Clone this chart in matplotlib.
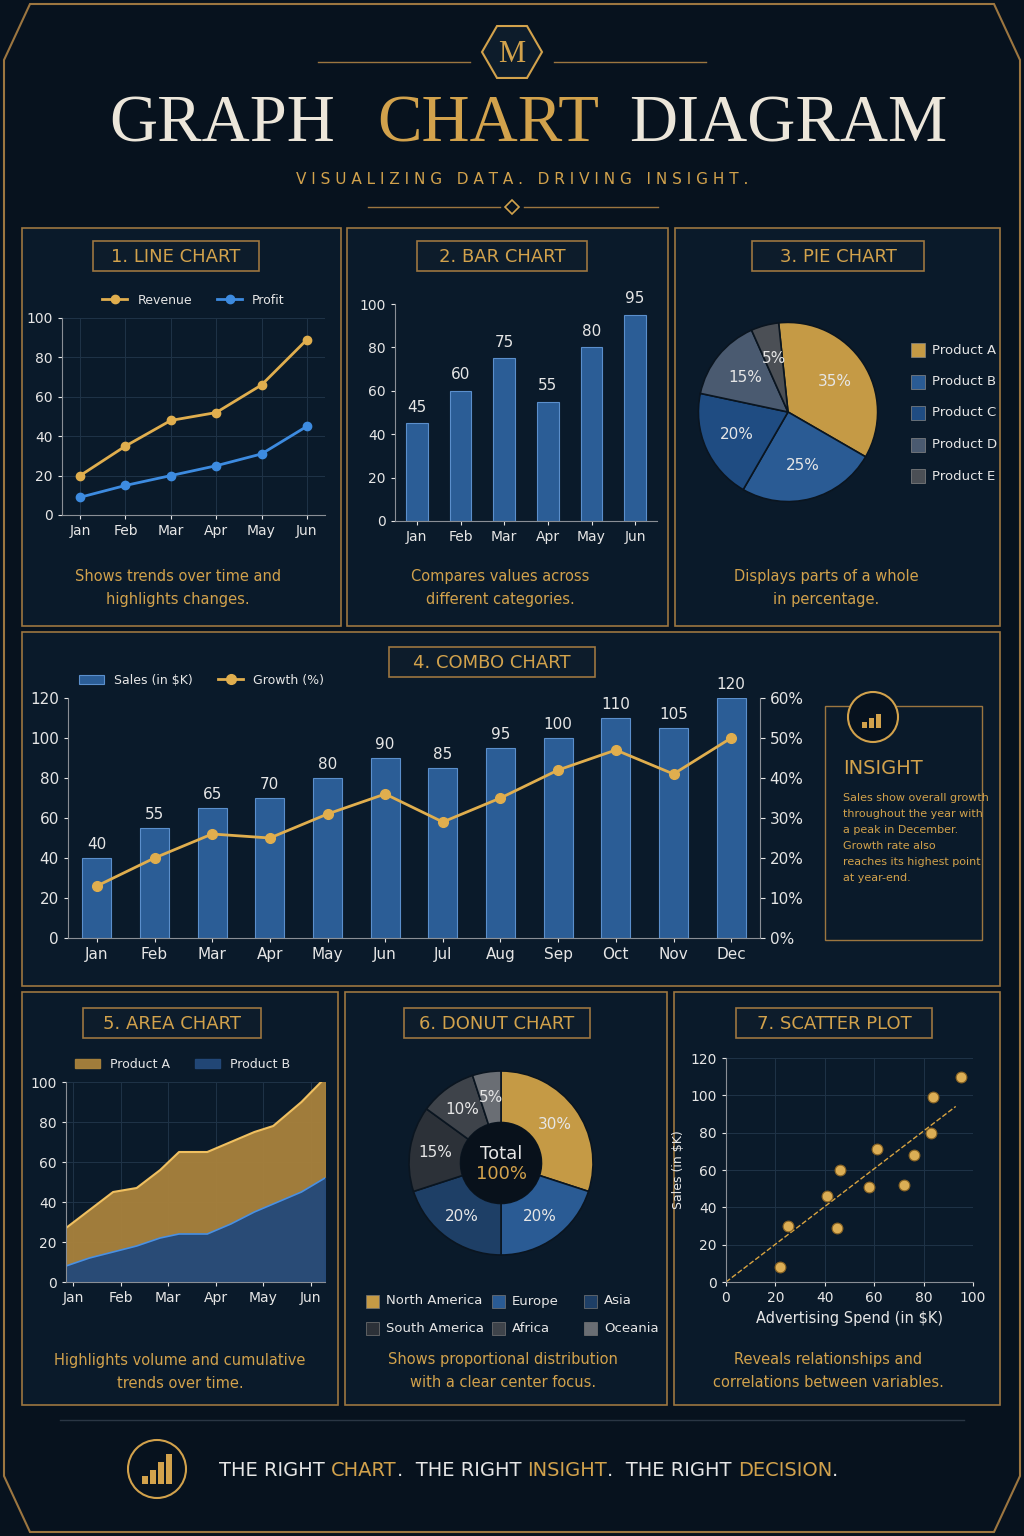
import matplotlib
matplotlib.use("Agg")
import matplotlib.pyplot as plt
from matplotlib.patches import Rectangle, RegularPolygon, Circle, Polygon
import numpy as np

W, H = 1024, 1536
BG = "#07121e"
PANEL = "#0a1a2a"
GOLD = "#d2a24c"
BORDER = "#9c7640"
TXT = "#e6e6e6"
BLUE = "#2b5d96"

months6 = ["Jan", "Feb", "Mar", "Apr", "May", "Jun"]
revenue = [20, 35, 48, 52, 66, 89]
profit = [9, 15, 20, 25, 31, 45]
bar_vals = [45, 60, 75, 55, 80, 95]
pie_labels = ["Product A", "Product B", "Product C", "Product D", "Product E"]
pie_vals = [35, 25, 20, 15, 5]
pie_colors = ["#c59a45", "#2a5b94", "#1f4c82", "#4a5a70", "#4b4f55"]
months12 = ["Jan", "Feb", "Mar", "Apr", "May", "Jun", "Jul", "Aug", "Sep", "Oct", "Nov", "Dec"]
sales = [40, 55, 65, 70, 80, 90, 85, 95, 100, 110, 105, 120]
growth = [13, 20, 26, 25, 31, 36, 29, 35, 42, 47, 41, 50]
area_x = [0, 0.5, 1, 1.5, 2, 2.4, 3, 3.5, 4, 4.4, 5, 5.5]
area_a = [27, 36, 45, 47, 56, 65, 65, 70, 75, 78, 90, 102]
area_b = [8, 12, 15, 18, 22, 24, 24, 29, 35, 39, 45, 52]
donut_labels = ["North America", "Europe", "Asia", "South America", "Africa", "Oceania"]
donut_vals = [30, 20, 20, 15, 10, 5]
donut_colors = ["#c59a45", "#2a5b94", "#1e3f66", "#2c3138", "#3e434a", "#6a6e74"]
scatter_x = [22, 25, 41, 45, 46, 58, 61, 72, 76, 83, 84, 95]
scatter_y = [8, 30, 46, 29, 60, 51, 71, 52, 68, 80, 99, 110]

plt.rcParams["font.family"] = ["DejaVu Sans"]
fig = plt.figure(figsize=(W / 100, H / 100), dpi=100, facecolor=BG)
bg = fig.add_axes([0, 0, 1, 1], zorder=0)
bg.set_xlim(0, W); bg.set_ylim(H, 0); bg.axis("off"); bg.set_facecolor(BG)

def ax_px(x0, y0, x1, y1):
    a = fig.add_axes([x0 / W, 1 - y1 / H, (x1 - x0) / W, (y1 - y0) / H], zorder=2)
    a.set_facecolor("none")
    return a

def style(a, grid=True):
    for s in ["top", "right"]:
        a.spines[s].set_visible(False)
    for s in ["left", "bottom"]:
        a.spines[s].set_color("#8a8f96")
    a.tick_params(colors=TXT, labelsize=10, length=3)
    if grid:
        a.grid(color="#1f3347", lw=0.7)
        a.set_axisbelow(True)

def panel(x0, y0, x1, y1):
    bg.add_patch(Rectangle((x0, y0), x1 - x0, y1 - y0, fc=PANEL, ec=BORDER, lw=1.2))

def title_box(cx, cy, w, text):
    bg.add_patch(Rectangle((cx - w / 2, cy - 15), w, 30, fc="#0d1c2b", ec=BORDER, lw=1.2))
    bg.text(cx, cy + 1, text, color=GOLD, fontsize=13, ha="center", va="center")

def caption(cx, cy, text):
    bg.text(cx, cy, text, color=GOLD, fontsize=10.5, ha="center", va="center", linespacing=1.6)

# outer frame
bg.add_patch(Polygon([(30, 4), (994, 4), (1020, 60), (1020, 1476), (994, 1532), (30, 1532), (4, 1476), (4, 60)],
                     closed=True, fc="none", ec=BORDER, lw=1.5))

# header
bg.add_patch(RegularPolygon((512, 52), 6, radius=30, orientation=np.pi / 6, fc="#0d1c2b", ec=GOLD, lw=1.5))
bg.text(512, 54, "M", color=GOLD, fontsize=22, ha="center", va="center", family="Liberation Serif")
bg.plot([318, 470], [62, 62], color=BORDER, lw=1); bg.plot([554, 706], [62, 62], color=BORDER, lw=1)
bg.text(222, 125, "GRAPH", color="#ece6da", fontsize=48, ha="center", va="center", family="Liberation Serif")
bg.text(488, 125, "CHART", color=GOLD, fontsize=48, ha="center", va="center", family="Liberation Serif")
bg.text(788, 125, "DIAGRAM", color="#ece6da", fontsize=48, ha="center", va="center", family="Liberation Serif")
bg.text(522, 180, "V I S U A L I Z I N G   D A T A .   D R I V I N G   I N S I G H T .", color=GOLD,
        fontsize=11, ha="center", va="center")
bg.plot([368, 500], [207, 207], color=BORDER, lw=1); bg.plot([524, 658], [207, 207], color=BORDER, lw=1)
bg.add_patch(RegularPolygon((512, 207), 4, radius=7, fc=BG, ec=GOLD, lw=1.2))

# panels
panel(22, 228, 341, 626); panel(347, 228, 668, 626); panel(675, 228, 1000, 626)
panel(22, 632, 1000, 986)
panel(22, 992, 338, 1405); panel(345, 992, 667, 1405); panel(674, 992, 1000, 1405)

# 1 line chart
title_box(176, 256, 166, "1. LINE CHART")
a = ax_px(62, 318, 325, 515); style(a)
x = np.arange(6)
a.plot(x, revenue, color="#e0ae4e", lw=2, marker="o", ms=6, label="Revenue")
a.plot(x, profit, color="#3d8be0", lw=2, marker="o", ms=6, label="Profit")
a.set_ylim(0, 100); a.set_xlim(-0.4, 5.4); a.set_xticks(x, months6); a.set_yticks(range(0, 101, 20))
a.legend(loc="lower center", bbox_to_anchor=(0.5, 1.0), ncol=2, frameon=False, labelcolor=TXT, fontsize=9)
caption(178, 588, "Shows trends over time and\nhighlights changes.")

# 2 bar chart
title_box(502, 256, 170, "2. BAR CHART")
a = ax_px(395, 304, 657, 521); style(a, grid=False)
a.bar(x, bar_vals, width=0.5, color=BLUE, edgecolor="#5b8fcc", lw=0.8)
for xi, v in zip(x, bar_vals):
    a.text(xi, v + 4, str(v), color=TXT, ha="center", va="bottom", fontsize=11)
a.set_ylim(0, 100); a.set_xlim(-0.5, 5.5); a.set_xticks(x, months6); a.set_yticks(range(0, 101, 20))
caption(500, 588, "Compares values across\ndifferent categories.")

# 3 pie
title_box(838, 256, 172, "3. PIE CHART")
a = ax_px(676, 300, 900, 524)
w, _ = a.pie(pie_vals, colors=pie_colors, startangle=96, counterclock=False,
             wedgeprops=dict(edgecolor="#0a1520", lw=1.2))
for wd, v in zip(w, pie_vals):
    ang = np.deg2rad((wd.theta1 + wd.theta2) / 2)
    a.text(0.62 * np.cos(ang), 0.62 * np.sin(ang), f"{v}%", color=TXT, ha="center", va="center", fontsize=11)
a.set_aspect("equal")
for i, (lab, c) in enumerate(zip(pie_labels, pie_colors)):
    y = 350 + i * 31.5
    bg.add_patch(Rectangle((911, y - 7), 14, 14, fc=c, ec="#888", lw=0.5))
    bg.text(932, y, lab, color=TXT, fontsize=9.5, va="center")
caption(826, 588, "Displays parts of a whole\nin percentage.")

# 4 combo
title_box(492, 662, 206, "4. COMBO CHART")
a = ax_px(68, 698, 760, 938); style(a, grid=False)
x12 = np.arange(12)
a.bar(x12, sales, width=0.5, color=BLUE, edgecolor="#5b8fcc", lw=0.8, label="Sales (in $K)")
for xi, v in zip(x12, sales):
    a.text(xi, v + 3, str(v), color=TXT, ha="center", va="bottom", fontsize=11)
a.set_ylim(0, 120); a.set_xlim(-0.5, 11.5); a.set_xticks(x12, months12); a.set_yticks(range(0, 121, 20))
a.tick_params(labelsize=11)
a2 = a.twinx(); a2.set_facecolor("none")
a2.plot(x12, growth, color="#e0ae4e", lw=2, marker="o", ms=7, label="Growth (%)")
a2.set_ylim(0, 60); a2.set_yticks(range(0, 61, 10), [f"{v}%" for v in range(0, 61, 10)])
a2.tick_params(colors=TXT, labelsize=11)
for s in ["top", "left", "bottom"]:
    a2.spines[s].set_visible(False)
a2.spines["right"].set_color("#8a8f96")
h1, l1 = a.get_legend_handles_labels(); h2, l2 = a2.get_legend_handles_labels()
a.legend(h1 + h2, l1 + l2, loc="lower left", bbox_to_anchor=(0.0, 1.0), ncol=2, frameon=False,
         labelcolor=TXT, fontsize=9)
bg.add_patch(Rectangle((825, 706), 157, 234, fc="none", ec=BORDER, lw=1))
bg.add_patch(Circle((873, 717), 25, fc=BG, ec=GOLD, lw=1.5))
for i, hh in enumerate([6, 10, 14]):
    bg.add_patch(Rectangle((862 + i * 7, 728 - hh), 5, hh, fc=GOLD))
bg.text(843, 769, "INSIGHT", color=GOLD, fontsize=14, va="center")
bg.text(843, 793, "Sales show overall growth\nthroughout the year with\na peak in December.\nGrowth rate also\nreaches its highest point\nat year-end.",
        color=GOLD, fontsize=8, va="top", linespacing=1.75)

# 5 area
title_box(172, 1023, 178, "5. AREA CHART")
a = ax_px(66, 1082, 325, 1282); style(a)
a.fill_between(area_x, 0, area_a, color="#a9823c", alpha=0.95, label="Product A")
a.plot(area_x, area_a, color="#f0c060", lw=1.5)
a.fill_between(area_x, 0, area_b, color="#23497a", alpha=0.95, label="Product B")
a.plot(area_x, area_b, color="#4a90e2", lw=1.2)
a.set_xlim(0, 5.5); a.set_ylim(0, 100)
a.set_xticks(np.linspace(0.15, 5.2, 6), months6)
a.set_yticks(range(0, 101, 20))
a.legend(loc="lower center", bbox_to_anchor=(0.45, 1.0), ncol=2, frameon=False, labelcolor=TXT, fontsize=9)
caption(180, 1372, "Highlights volume and cumulative\ntrends over time.")

# 6 donut
title_box(497, 1023, 186, "6. DONUT CHART")
a = ax_px(386, 1048, 616, 1278)
w, _ = a.pie(donut_vals, colors=donut_colors, startangle=90, counterclock=False,
             wedgeprops=dict(width=0.56, edgecolor="#0a1520", lw=1.2))
for wd, v in zip(w, donut_vals):
    ang = np.deg2rad((wd.theta1 + wd.theta2) / 2)
    a.text(0.72 * np.cos(ang), 0.72 * np.sin(ang), f"{v}%", color=TXT, ha="center", va="center", fontsize=11)
a.add_patch(Circle((0, 0), 0.44, fc="#08111b", ec="none"))
a.text(0, 0.1, "Total", color=TXT, ha="center", va="center", fontsize=13)
a.text(0, -0.12, "100%", color=GOLD, ha="center", va="center", fontsize=13)
a.set_aspect("equal")
for i, (lab, c) in enumerate(zip(donut_labels, donut_colors)):
    col, row = i % 3, i // 3
    xx = [366, 492, 584][col]; yy = 1301 + row * 27
    bg.add_patch(Rectangle((xx, yy - 6), 13, 13, fc=c, ec="#777", lw=0.5))
    bg.text(xx + 20, yy, lab, color=TXT, fontsize=9.5, va="center")
caption(503, 1371, "Shows proportional distribution\nwith a clear center focus.")

# 7 scatter
title_box(834, 1023, 196, "7. SCATTER PLOT")
a = ax_px(726, 1058, 973, 1282); style(a)
a.scatter(scatter_x, scatter_y, s=60, color="#dcae55", edgecolor="#8a6424", lw=0.8, zorder=3)
sx = np.array(scatter_x, float); sy = np.array(scatter_y, float)
m = (sx * sy).sum() / (sx * sx).sum()
xs = np.array([0, 93])
a.plot(xs, m * xs, color="#d9a440", lw=1, ls="--")
a.set_xlim(0, 100); a.set_ylim(0, 120)
a.set_xticks(range(0, 101, 20)); a.set_yticks(range(0, 121, 20))
a.set_xlabel("Advertising Spend (in $K)", color=TXT, fontsize=10.5)
a.set_ylabel("Sales (in $K)", color=TXT, fontsize=9)
caption(828, 1371, "Reveals relationships and\ncorrelations between variables.")

# footer
bg.plot([60, 964], [1420, 1420], color="#2a3644", lw=1)
bg.add_patch(Circle((157, 1469), 29, fc=BG, ec=GOLD, lw=1.5))
for i, hh in enumerate([8, 14, 22, 30]):
    bg.add_patch(Rectangle((142 + i * 8, 1484 - hh), 6, hh, fc=GOLD))
parts = [("THE RIGHT ", TXT), ("CHART", GOLD), (".  THE RIGHT ", TXT), ("INSIGHT", GOLD),
         (".  THE RIGHT ", TXT), ("DECISION", GOLD), (".", TXT)]
fig.canvas.draw()
r = fig.canvas.get_renderer()
inv = bg.transData.inverted()
xpos = 219
for s, col in parts:
    t = bg.text(xpos, 1470, s, color=col, fontsize=14, va="center", ha="left")
    bb = t.get_window_extent(renderer=r)
    x0d = inv.transform((bb.x0, 0))[0]; x1d = inv.transform((bb.x1, 0))[0]
    xpos += (x1d - x0d)

fig.savefig("out.png", dpi=100, facecolor=BG)
